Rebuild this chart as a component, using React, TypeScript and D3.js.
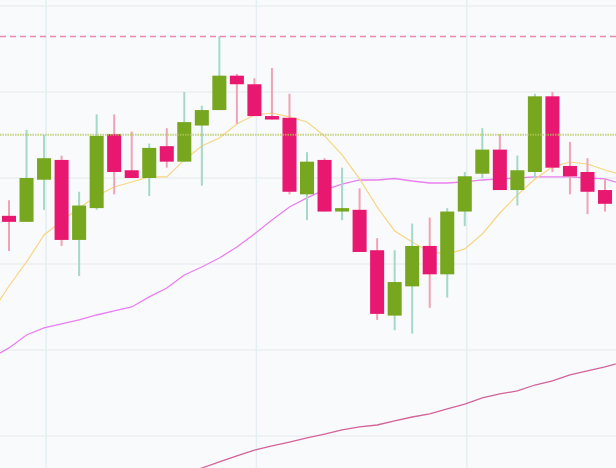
import React from "react";
import * as d3 from "d3";

// Trading days (first and last sit just outside the visible window)
const dates: string[] = [
  "2013/2/25", "2013/2/26", "2013/2/27", "2013/2/28", "2013/3/1",
  "2013/3/4", "2013/3/5", "2013/3/6", "2013/3/7", "2013/3/8",
  "2013/3/11", "2013/3/12", "2013/3/13", "2013/3/14", "2013/3/15",
  "2013/3/18", "2013/3/19", "2013/3/20", "2013/3/21", "2013/3/22",
  "2013/3/25", "2013/3/26", "2013/3/27", "2013/3/28", "2013/3/29",
  "2013/4/1", "2013/4/2", "2013/4/3", "2013/4/8", "2013/4/9",
  "2013/4/10", "2013/4/11", "2013/4/12", "2013/4/15", "2013/4/16",
  "2013/4/17", "2013/4/18",
];

const opens: (number | null)[] = [
  null, 2656, 2649, 2698, 2721, 2628, 2665, 2751, 2709, 2700, 2737, 2719,
  2761, 2779, 2819, 2809, 2772, 2770, 2681, 2721, 2661, 2663, 2616, 2540,
  2574, 2621, 2588, 2661, 2705, 2733, 2686, 2707, 2795, 2714, 2707, 2686, null,
];
const highs: (number | null)[] = [
  null, 2674, 2756, 2750, 2726, 2684, 2774, 2774, 2754, 2740, 2758, 2800,
  2784, 2865, 2821, 2816, 2828, 2798, 2730, 2723, 2712, 2688, 2630, 2616,
  2647, 2654, 2665, 2707, 2758, 2751, 2726, 2798, 2800, 2742, 2723, 2700, null,
];
const lows: (number | null)[] = [
  null, 2615, 2649, 2663, 2621, 2586, 2663, 2681, 2700, 2679, 2712, 2719,
  2691, 2779, 2763, 2772, 2768, 2681, 2651, 2661, 2651, 2614, 2535, 2523,
  2519, 2549, 2561, 2644, 2700, 2686, 2668, 2700, 2707, 2681, 2658, 2661, null,
];
const closes: (number | null)[] = [
  null, 2649, 2700, 2723, 2628, 2668, 2749, 2707, 2700, 2735, 2719, 2765,
  2779, 2819, 2809, 2772, 2768, 2684, 2719, 2661, 2665, 2614, 2542, 2579,
  2621, 2588, 2661, 2702, 2733, 2686, 2709, 2795, 2712, 2702, 2684, 2670, null,
];

const ma5: (number | null)[] = [
  2543.0, 2574.4, 2602.4, 2633.7, 2650.0, 2665.1, 2679.1, 2689.6, 2695.4,
  2701.2, 2701.2, 2721.0, 2737.2, 2746.5, 2762.8, 2773.3, 2775.6, 2771.0,
  2765.1, 2748.9, 2726.8, 2698.9, 2666.3, 2638.4, 2625.6, 2614.0, 2611.6,
  2617.5, 2634.9, 2659.3, 2680.3, 2698.9, 2712.8, 2718.6, 2716.3, 2709.3, 2703.5,
];
const ma20: (number | null)[] = [
  2490.7, 2502.4, 2517.5, 2525.6, 2530.3, 2534.9, 2540.7, 2545.4, 2550.0,
  2561.7, 2572.1, 2587.2, 2596.5, 2607.0, 2619.8, 2634.9, 2651.2, 2666.3,
  2676.8, 2686.1, 2693.0, 2697.7, 2697.7, 2699.4, 2696.5, 2694.2, 2694.2,
  2695.4, 2697.7, 2698.9, 2700.0, 2701.2, 2701.2, 2701.2, 2700.0, 2698.9, 2693.0,
];
const ma60: (number | null)[] = [
  null, null, null, null, null, null, null, null, null, null, null,
  2355.8, 2362.8, 2369.8, 2376.8, 2383.7, 2388.4, 2393.0, 2397.7, 2402.3,
  2407.0, 2410.5, 2412.8, 2417.5, 2422.1, 2425.6, 2431.4, 2437.2, 2444.2,
  2448.9, 2452.4, 2459.3, 2464.0, 2471.0, 2475.6, 2480.3, 2486.1,
];

const averageValue = 2750.4;
const vGridDates: string[] = ["2013/2/28", "2013/3/18", "2013/4/3"];

const W = 616;
const H = 468;

const UP = "#77a61f";
const DOWN = "#e8176f";
const UP_WICK = "#a3d9c6";
const DOWN_WICK = "#f1a3b6";

export default function App() {
  const x = d3.scalePoint<string>().domain(dates).range([-8.53, 622.55]);
  const y = d3.scaleLinear().domain([2400, 2900]).range([436, 6]);
  const step = x.step();
  const bodyW = step * 0.8;

  const lineGen = d3
    .line<number | null>()
    .defined((d) => d != null)
    .x((_, i) => x(dates[i]) as number)
    .y((d) => y(d as number));

  const maxHigh = d3.max(highs.filter((v) => v != null) as number[]) as number;

  return (
    <svg
      width={W}
      height={H}
      style={{ position: "fixed", left: 0, top: 0, display: "block" }}
    >
      <rect x={0} y={0} width={W} height={H} fill="#f9fafb" />
      {y.ticks(5).map((t) => (
        <line
          key={"h" + t}
          x1={0}
          x2={W}
          y1={y(t)}
          y2={y(t)}
          stroke="#ebeff2"
          strokeWidth={1.5}
        />
      ))}
      {vGridDates.map((d) => (
        <line
          key={"v" + d}
          x1={(x(d) as number) + 2}
          x2={(x(d) as number) + 2}
          y1={0}
          y2={H}
          stroke="#e6eef1"
          strokeWidth={1.5}
        />
      ))}
      <path d={lineGen(ma60) || ""} fill="none" stroke="#d3639b" strokeWidth={1.3} />
      <path d={lineGen(ma20) || ""} fill="none" stroke="#e97ff0" strokeWidth={1.3} />
      <path d={lineGen(ma5) || ""} fill="none" stroke="#f8d683" strokeWidth={1.2} />
      {dates.map((d, i) => {
        const o = opens[i];
        const c = closes[i];
        const h = highs[i];
        const l = lows[i];
        if (o == null || c == null || h == null || l == null) return null;
        const up = c >= o;
        const cx = x(d) as number;
        const top = y(Math.max(o, c));
        const bot = y(Math.min(o, c));
        return (
          <g key={d}>
            <line
              x1={cx}
              x2={cx}
              y1={y(h)}
              y2={y(l)}
              stroke={up ? UP_WICK : DOWN_WICK}
              strokeWidth={2}
            />
            <rect
              x={cx - bodyW / 2}
              y={top}
              width={bodyW}
              height={Math.max(1, bot - top)}
              fill={up ? UP : DOWN}
            />
          </g>
        );
      })}
      <line
        x1={0}
        x2={W}
        y1={y(maxHigh)}
        y2={y(maxHigh)}
        stroke="#e88aa9"
        strokeWidth={1.5}
        strokeDasharray="6,4"
        transform="translate(0,0.5)"
      />
      <line
        x1={0}
        x2={W}
        y1={y(averageValue)}
        y2={y(averageValue)}
        stroke="#b3c65a"
        strokeOpacity={0.75}
        strokeWidth={2}
        strokeDasharray="1.5,1"
      />
    </svg>
  );
}
